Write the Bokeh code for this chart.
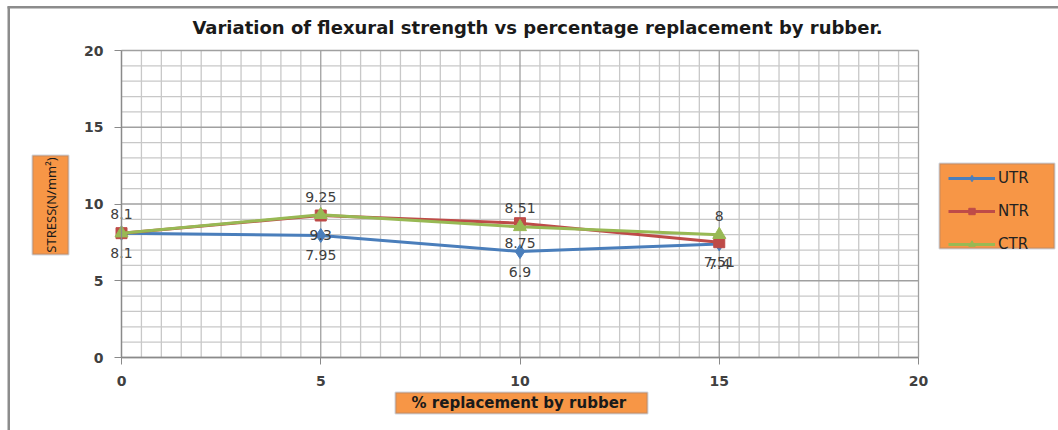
from bokeh.plotting import figure
from bokeh.models import (ColumnDataSource, Label, Legend, LegendItem, BoxAnnotation,
                          FixedTicker, Range1d)
from bokeh.core.properties import value
from bokeh.embed import file_html
from bokeh.resources import INLINE

# ---------------- data ----------------
x_pct = [0, 5, 10, 15]
utr = [8.1, 7.95, 6.9, 7.4]
ntr = [8.1, 9.25, 8.75, 7.51]
ctr = [8.1, 9.3, 8.51, 8.0]
series_names = ["UTR", "NTR", "CTR"]
x_ticks = [0, 5, 10, 15, 20]
y_ticks = [0, 5, 10, 15, 20]
x_minor = [i * 0.5 for i in range(41)]
y_minor = [i * 1.0 for i in range(21)]

title_text = "Variation of flexural strength vs percentage replacement by rubber."
x_title = "%  replacement by rubber"
y_title = "STRESS(N/mm\u00b2)"

# ---------------- style ----------------
colors = ["#4A7EBB", "#BE4B48", "#98B954"]
markers = ["diamond", "square", "triangle"]
msizes = [14, 11, 13]
label_side = {
    "UTR": ["below", "below", "below", "below"],
    "NTR": ["above", "above", "below", "below"],
    "CTR": ["above", "below", "above", "above"],
}
shown = {"UTR": [True] * 4, "NTR": [True] * 4, "CTR": [False, True, True, True]}
OFF = {"above": -19, "below": 20}
ORANGE = "#F79646"
BOX_LINE = "#5f7396"
TXT = "#404040"

# pixel geometry of the data area inside the 1058x430 canvas
W, H = 1058, 430
L, R, T, B = 121, 918, 50, 357
XU = (R - L) / 20.0
YU = (B - T) / 20.0
x_rng = Range1d(-L / XU, 20 + (W - R) / XU)
y_rng = Range1d(-(H - B) / YU, 20 + T / YU)


def dx(px):
    return (px - L) / XU


def dy(py):
    return (B - py) / YU


p = figure(width=W, height=H, output_backend="svg", toolbar_location=None,
           x_range=x_rng, y_range=y_rng,
           min_border_left=0, min_border_right=0, min_border_top=0, min_border_bottom=0)
p.outline_line_color = None
p.background_fill_color = "white"
p.border_fill_color = "white"
p.xgrid.visible = False
p.ygrid.visible = False

# grid (drawn from the tick arrays through the scales)
minor_xs = [v for v in x_minor if v not in x_ticks]
minor_ys = [v for v in y_minor if v not in y_ticks]
p.segment(x0=minor_xs, y0=[0] * len(minor_xs), x1=minor_xs, y1=[20] * len(minor_xs),
          line_color="#c8c8c8", line_width=1.3)
p.segment(x0=[0] * len(minor_ys), y0=minor_ys, x1=[20] * len(minor_ys), y1=minor_ys,
          line_color="#c8c8c8", line_width=1.3)
p.segment(x0=x_ticks, y0=[0] * len(x_ticks), x1=x_ticks, y1=[20] * len(x_ticks),
          line_color="#a0a0a0", line_width=1.3)
p.segment(x0=[0] * len(y_ticks), y0=y_ticks, x1=[20] * len(y_ticks), y1=y_ticks,
          line_color="#a0a0a0", line_width=1.3)

# axes fixed at the origin
p.xaxis.fixed_location = 0
p.yaxis.fixed_location = 0
p.xaxis.ticker = FixedTicker(ticks=x_ticks)
p.yaxis.ticker = FixedTicker(ticks=y_ticks)
for ax in (p.xaxis, p.yaxis):
    ax.bounds = (0, 20)
    ax.axis_line_color = "#8a8a8a"
    ax.axis_line_width = 1.3
    ax.major_tick_line_color = "#8a8a8a"
    ax.major_tick_out = 7
    ax.major_tick_in = 0
    ax.minor_tick_line_color = None
    ax.major_label_text_font = "DejaVu Sans"
    ax.major_label_text_font_style = "bold"
    ax.major_label_text_font_size = "14px"
    ax.major_label_text_color = TXT
    ax.major_label_standoff = 11

# ---------------- series ----------------
items = []
for name, vals, col, mk, ms in zip(series_names, [utr, ntr, ctr], colors, markers, msizes):
    src = ColumnDataSource(dict(x=x_pct, y=vals))
    ln = p.line("x", "y", source=src, line_color=col, line_width=3)
    sc = p.scatter("x", "y", source=src, marker=mk, size=ms, fill_color=col, line_color=col)
    items.append(LegendItem(label=name, renderers=[ln, sc]))

# data labels
for name, vals in zip(series_names, [utr, ntr, ctr]):
    xs, ys, ts, offs = [], [], [], []
    for xv, yv, side, sh in zip(x_pct, vals, label_side[name], shown[name]):
        if not sh:
            continue
        xs.append(xv); ys.append(yv); ts.append(f"{yv:g}"); offs.append(OFF[side])
    lsrc = ColumnDataSource(dict(x=xs, y=ys, t=ts, off=offs))
    p.text("x", "y", text="t", y_offset="off", source=lsrc, text_align="center",
           text_baseline="middle", text_font=value("DejaVu Sans"), text_font_size="14px",
           text_color=TXT)

# legend panel background, then legend items on top of it
p.add_layout(BoxAnnotation(left=dx(939), right=dx(1054), top=dy(163), bottom=dy(248),
                           fill_color=ORANGE, fill_alpha=1.0, line_color=BOX_LINE,
                           line_width=2, level="annotation"))
legend = Legend(items=items, location=(948, H - 253), margin=0, padding=5,
                glyph_width=47, glyph_height=16, label_height=16, spacing=15,
                label_standoff=3,
                background_fill_alpha=0.0, border_line_color=None,
                label_text_font="DejaVu Sans", label_text_font_size="15px",
                label_text_color="#222222")
p.add_layout(legend)

# ---------------- texts ----------------
p.add_layout(Label(x=dx(537), y=dy(27), text=title_text, text_align="center",
                   text_baseline="middle", text_font="DejaVu Sans", text_font_style="bold",
                   text_font_size="18px", text_color="#1a1a1a"))

# y title box + text
p.add_layout(BoxAnnotation(left=dx(32), right=dx(68), top=dy(155), bottom=dy(254),
                           fill_color=ORANGE, fill_alpha=1.0, line_color=BOX_LINE,
                           line_width=2, level="annotation"))
p.add_layout(Label(x=dx(50), y=dy(204.5), text=y_title, angle=90, angle_units="deg",
                   text_align="center", text_baseline="middle", text_font="Noto Sans",
                   text_font_size="13px", text_color="#1a1a1a"))

# x title box + text
p.add_layout(BoxAnnotation(left=dx(395), right=dx(647), top=dy(392), bottom=dy(413),
                           fill_color=ORANGE, fill_alpha=1.0, line_color=BOX_LINE,
                           line_width=2, level="annotation"))
p.add_layout(Label(x=dx(521), y=dy(402.5), text=x_title, text_align="center",
                   text_baseline="middle", text_font="DejaVu Sans", text_font_style="bold",
                   text_font_size="15px", text_color="#1a1a1a"))

# outer chart border (left and top edges visible)
p.add_layout(BoxAnnotation(left=dx(7), right=dx(9.5), top=dy(6), bottom=dy(440),
                           fill_color="#8c8c8c", fill_alpha=1.0, line_color=None,
                           level="overlay"))
p.add_layout(BoxAnnotation(left=dx(7), right=dx(1070), top=dy(5.5), bottom=dy(8),
                           fill_color="#8c8c8c", fill_alpha=1.0, line_color=None,
                           level="overlay"))

open("out.html", "w").write(file_html(p, INLINE))
